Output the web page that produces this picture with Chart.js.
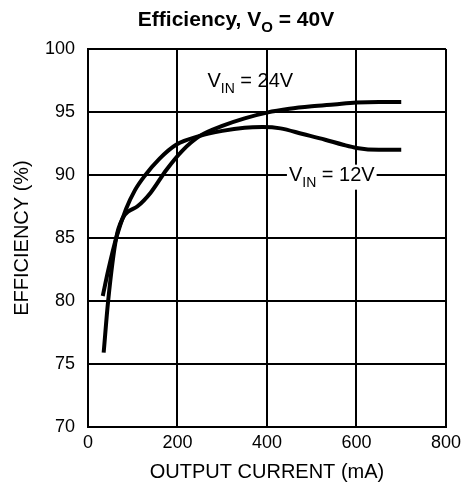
<!DOCTYPE html>
<html>
<head>
<meta charset="utf-8">
<script src="https://cdn.jsdelivr.net/npm/chart.js@4"></script>
<style>
html,body{margin:0;padding:0;background:#fff;}
#wrap{width:466px;height:497px;}
</style>
</head>
<body>
<div id="wrap"><canvas id="c" width="466" height="497"></canvas></div>
<script>
const xTicks = [0, 200, 400, 600, 800];
const yTicks = [70, 75, 80, 85, 90, 95, 100];

const current24 = [35, 45, 63, 78, 90, 110, 140, 175, 210, 250, 300, 350, 400, 450, 500, 550, 600, 650, 700];
const eff24     = [75.9, 80.0, 85.0, 86.6, 87.1, 87.5, 88.6, 90.4, 91.9, 93.1, 93.9, 94.5, 94.95, 95.25, 95.45, 95.6, 95.75, 95.8, 95.8];

const current12 = [33, 45, 63, 85, 105, 126, 160, 197, 250, 300, 350, 390, 430, 480, 530, 570, 600, 650, 700];
const eff12     = [80.4, 82.4, 85.0, 87.3, 88.8, 89.9, 91.3, 92.4, 93.1, 93.5, 93.75, 93.8, 93.7, 93.25, 92.8, 92.4, 92.15, 92.0, 92.0];

const FONT = "'Liberation Sans', Arial, Helvetica, sans-serif";

function pts(xs, ys){ return xs.map((x,i)=>({x:x, y:ys[i]})); }

function drawSub(ctx, x, y, main, sub, rest, size, subSize, bold, align){
  const w = bold ? 'bold ' : '';
  ctx.font = w + size + 'px ' + FONT;
  const w1 = ctx.measureText(main).width;
  ctx.font = w + subSize + 'px ' + FONT;
  const w2 = ctx.measureText(sub).width;
  ctx.font = w + size + 'px ' + FONT;
  const w3 = ctx.measureText(rest).width;
  const total = w1 + w2 + w3;
  let sx = align === 'center' ? x - total/2 : x;
  ctx.textAlign = 'left';
  ctx.textBaseline = 'alphabetic';
  ctx.fillStyle = '#000';
  ctx.font = w + size + 'px ' + FONT;
  ctx.fillText(main, sx, y);
  ctx.font = w + subSize + 'px ' + FONT;
  ctx.fillText(sub, sx + w1, y + size*0.3);
  ctx.font = w + size + 'px ' + FONT;
  ctx.fillText(rest, sx + w1 + w2, y);
  return {left:sx, width: total};
}

const labelPlugin = {
  id: 'labels',
  afterDraw(chart){
    const ctx = chart.ctx;
    const xs = chart.scales.x, ys = chart.scales.y;
    ctx.save();
    // title
    drawSub(ctx, 236, 26, 'Efficiency, V', 'O', ' = 40V', 21, 15, true, 'center');
    // VIN = 24V
    drawSub(ctx, xs.getPixelForValue(267), ys.getPixelForValue(97.0), 'V', 'IN', ' = 24V', 20, 14, false, 'left');
    // VIN = 12V with white background
    const lx = xs.getPixelForValue(449), ly = ys.getPixelForValue(89.55);
    ctx.font = '20px ' + FONT;
    const wv = ctx.measureText('V').width, wr = ctx.measureText(' = 12V').width;
    ctx.font = '14px ' + FONT;
    const wi = ctx.measureText('IN').width;
    ctx.fillStyle = '#fff';
    ctx.fillRect(lx - 2, ly - 16, wv + wi + wr + 4, 25);
    drawSub(ctx, lx, ly, 'V', 'IN', ' = 12V', 20, 14, false, 'left');
    ctx.restore();
  }
};

new Chart(document.getElementById('c'), {
  type: 'line',
  data: {
    datasets: [
      { label: 'VIN = 24V', data: pts(current24, eff24), borderColor: '#000', borderWidth: 4, pointRadius: 0, fill: false, cubicInterpolationMode: 'monotone' },
      { label: 'VIN = 12V', data: pts(current12, eff12), borderColor: '#000', borderWidth: 4, pointRadius: 0, fill: false, cubicInterpolationMode: 'monotone' }
    ]
  },
  options: {
    responsive: false,
    animation: false,
    devicePixelRatio: 1,
    layout: { padding: { top: 49, left: 0, right: 19, bottom: 0 } },
    plugins: { legend: { display: false }, title: { display: false }, tooltip: { enabled: false } },
    scales: {
      x: {
        type: 'linear', min: 0, max: 800,
        afterBuildTicks(s){ s.ticks = xTicks.map(v=>({value:v})); },
        afterFit(s){ s.height = 70; },
        grid: { color: '#000', lineWidth: 2, drawTicks: false },
        border: { color: '#000', width: 2 },
        ticks: { color: '#000', font: { family: FONT, size: 18 }, padding: 5, maxRotation: 0 },
        title: { display: true, text: 'OUTPUT CURRENT (mA)', color: '#000', font: { family: FONT, size: 20 }, padding: { top: 0, bottom: 13 } }
      },
      y: {
        type: 'linear', min: 70, max: 100,
        afterBuildTicks(s){ s.ticks = yTicks.map(v=>({value:v})); },
        afterFit(s){ s.width = 88; },
        grid: { color: '#000', lineWidth: 2, drawTicks: false },
        border: { color: '#000', width: 2 },
        ticks: { color: '#000', font: { family: FONT, size: 18 }, padding: 13 },
        title: { display: true, text: 'EFFICIENCY (%)', color: '#000', font: { family: FONT, size: 20 }, padding: { top: 10, bottom: 0 } }
      }
    }
  },
  plugins: [labelPlugin]
});
</script>
</body>
</html>
